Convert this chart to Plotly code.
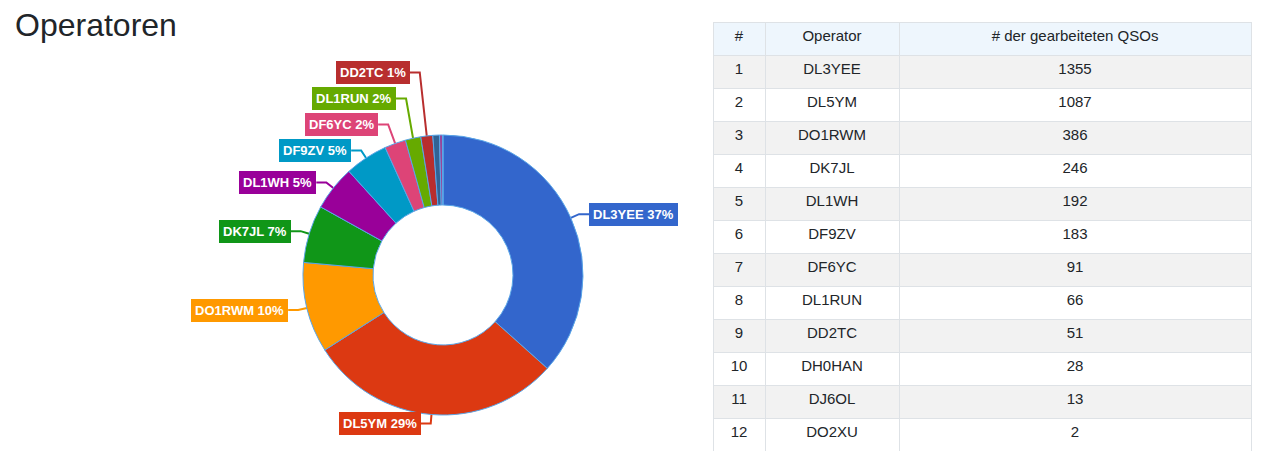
import numpy as np
import plotly.graph_objects as go

# Daten
rang = list(range(1, 13))
operatoren = ['DL3YEE', 'DL5YM', 'DO1RWM', 'DK7JL', 'DL1WH', 'DF9ZV',
              'DF6YC', 'DL1RUN', 'DD2TC', 'DH0HAN', 'DJ6OL', 'DO2XU']
qsos = [1355, 1087, 386, 246, 192, 183, 91, 66, 51, 28, 13, 2]
farben = ['#3366cc', '#dc3912', '#ff9900', '#109618', '#990099', '#0099c6',
          '#dd4477', '#66aa00', '#b82e2e', '#316395', '#994499', '#22aa99']

# Geometrie (Seitenpixel, body hat 8px Rand)
W, H = 1250, 449
OFF = 8
CX, CY, R = 443, 275, 140
FONT = 'Arial, Liberation Sans, sans-serif'


def px_x(x):
    return (x - OFF) / W


def px_y(y):
    return 1 - (y - OFF) / H


fig = go.Figure()

fig.add_trace(go.Pie(
    labels=operatoren, values=qsos, hole=0.5, sort=False,
    direction='clockwise', rotation=0,
    marker=dict(colors=farben, line=dict(color='#5aa6e8', width=1)),
    textinfo='none', hoverinfo='label+value+percent', showlegend=False,
    domain=dict(x=[px_x(CX - R), px_x(CX + R)], y=[px_y(CY + R), px_y(CY - R)]),
))

# Beschriftungen mit Verbindungslinien
werte = np.array(qsos, dtype=float)
anteil = werte / werte.sum()
mitte = (np.cumsum(anteil) - anteil / 2) * 2 * np.pi

labels = []
for i, a in enumerate(anteil):
    if a < 0.01:
        continue
    s, c = np.sin(mitte[i]), np.cos(mitte[i])
    labels.append(dict(i=i, ex=CX + R * s, ey=CY - R * c,
                       kx=CX + (R + 9) * s, ky=CY - (R + 9) * c,
                       seite=1 if s > 0 else -1))

# Ueberlappungen aufloesen (nach oben schieben)
for seite in (1, -1):
    grp = sorted([l for l in labels if l['seite'] == seite], key=lambda l: -l['ky'])
    prev = None
    for l in grp:
        if prev is not None and l['ky'] > prev - 26:
            l['ky'] = prev - 26
            l['kx'] = l['ex'] + 7 * seite
        prev = l['ky']

for l in labels:
    i = l['i']
    fx = l['kx'] + 10 * l['seite']
    fig.add_trace(go.Scatter(
        x=[l['ex'], l['kx'], fx], y=[l['ey'], l['ky'], l['ky']],
        mode='lines', line=dict(color=farben[i], width=2),
        hoverinfo='skip', showlegend=False,
    ))
    fig.add_annotation(
        x=fx, y=l['ky'], xref='x', yref='y', showarrow=False,
        xanchor='left' if l['seite'] > 0 else 'right', yanchor='middle',
        text='<b>%s %d%%</b>' % (operatoren[i], round(anteil[i] * 100)),
        font=dict(family=FONT, size=13, color='white'),
        bgcolor=farben[i], bordercolor=farben[i], borderwidth=1, borderpad=3,
    )

# Tabelle
zeilenfarben = ['#f2f2f2' if k % 2 == 0 else '#ffffff' for k in range(len(rang))]
fig.add_trace(go.Table(
    domain=dict(x=[px_x(713), px_x(1251)], y=[px_y(451), px_y(22)]),
    columnwidth=[52, 134, 352],
    header=dict(values=['#', 'Operator', '# der gearbeiteten QSOs'],
                fill_color='#eef6fd', line_color='#dee2e6', align='center',
                font=dict(family=FONT, size=15, color='#212529'), height=33),
    cells=dict(values=[rang, operatoren, qsos],
               fill_color=[zeilenfarben] * 3, line_color='#dee2e6', align='center',
               font=dict(family=FONT, size=15, color='#212529'), height=33),
))

fig.add_annotation(
    x=13, y=25, xref='x', yref='y', showarrow=False, xanchor='left', yanchor='middle',
    text='Operatoren', font=dict(family=FONT, size=32, color='#212529'),
)

fig.update_layout(
    width=W, height=H, margin=dict(l=0, r=0, t=0, b=0),
    paper_bgcolor='white', plot_bgcolor='white',
    xaxis=dict(range=[OFF, OFF + W], visible=False, fixedrange=True, domain=[0, 1]),
    yaxis=dict(range=[OFF + H, OFF], visible=False, fixedrange=True, domain=[0, 1]),
)

fig.write_html("out.html")
